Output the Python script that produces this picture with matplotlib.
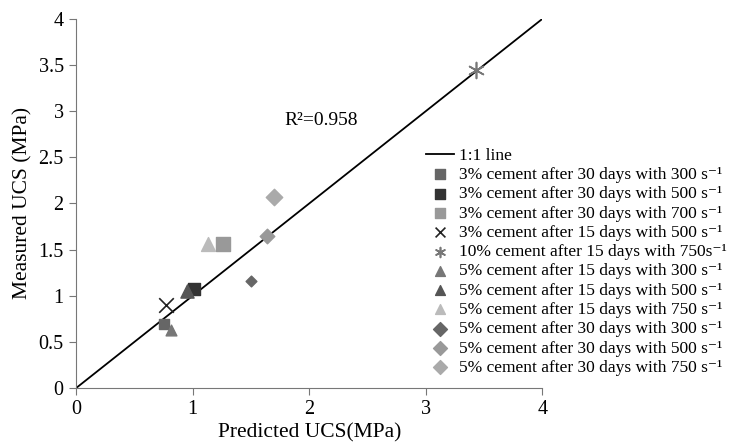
import numpy as np
import matplotlib.pyplot as plt

plt.rcParams['font.family'] = ['Liberation Serif', 'DejaVu Serif']

# series: label, predicted, measured
labels = [
    '3% cement after 30 days with 300 s⁻¹',
    '3% cement after 30 days with 500 s⁻¹',
    '3% cement after 30 days with 700 s⁻¹',
    '3% cement after 15 days with 500 s⁻¹',
    '10% cement after 15 days with 750s⁻¹',
    '5% cement after 15 days with 300 s⁻¹',
    '5% cement after 15 days with 500 s⁻¹',
    '5% cement after 15 days with 750 s⁻¹',
    '5% cement after 30 days with 300 s⁻¹',
    '5% cement after 30 days with 500 s⁻¹',
    '5% cement after 30 days with 750 s⁻¹',
]
predicted = [0.75, 1.01, 1.26, 0.77, 3.43, 0.81, 0.95, 1.13, 1.50, 1.64, 1.70]
measured = [0.69, 1.07, 1.56, 0.90, 3.45, 0.63, 1.05, 1.56, 1.16, 1.65, 2.07]

markers = ['s', 's', 's', 'x', '*', '^', '^', '^', 'D', 'D', 'D']
colors = ['#666666', '#333333', '#999999', '#222222', '#777777',
          '#777777', '#555555', '#bbbbbb', '#666666', '#999999', '#aaaaaa']
sizes = [60, 80, 110, 110, 130, 60, 90, 100, 30, 55, 70]

fig = plt.figure(figsize=(7.33, 4.48), dpi=100)
ax = fig.add_axes([0.104, 0.134, 0.636, 0.824])

line, = ax.plot([0, 4], [0, 4], color='black', lw=1.3, label='1:1 line')
for i in range(len(labels)):
    if markers[i] in ('x', '*'):
        ax.scatter(predicted[i], measured[i], marker='x' if markers[i] == 'x' else (6, 2, 0),
                   s=sizes[i], color=colors[i], linewidths=1.2, label=labels[i], zorder=3)
    else:
        ax.scatter(predicted[i], measured[i], marker=markers[i], s=sizes[i],
                   color=colors[i], label=labels[i], zorder=3)

ax.text(1.79, 2.9, 'R²=0.958', fontsize=14, va='center')

ax.set_xlim(0, 4)
ax.set_ylim(0, 4)
ax.set_xticks([0, 1, 2, 3, 4])
ax.set_yticks(np.arange(0, 4.01, 0.5))
ax.set_yticklabels(['0', '0.5', '1', '1.5', '2', '2.5', '3', '3.5', '4'])
ax.tick_params(labelsize=14.5, direction='out', length=5, color='#777777', pad=4)
for s in ['top', 'right']:
    ax.spines[s].set_visible(False)
for s in ['left', 'bottom']:
    ax.spines[s].set_color('#777777')
ax.set_xlabel('Predicted UCS(MPa)', fontsize=15.5, labelpad=3)
ax.set_ylabel('Measured UCS (MPa)', fontsize=15.5, labelpad=4)

leg = fig.legend(loc='upper left', bbox_to_anchor=(0.572, 0.686), frameon=False,
                 fontsize=12.5, handlelength=1.6, handletextpad=0.3, labelspacing=0.18,
                 borderaxespad=0, scatterpoints=1)
for h in leg.legend_handles[1:]:
    if hasattr(h, 'set_sizes'):
        h.set_sizes([50])

fig.savefig('out.png', dpi=100)
